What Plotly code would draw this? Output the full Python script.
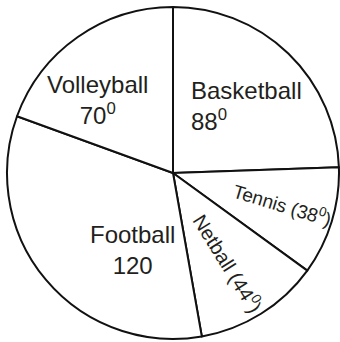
import plotly.graph_objects as go

# Sports and their share of the circle (degrees)
sports = ["Basketball", "Tennis", "Netball", "Football", "Volleyball"]
degrees = [88, 38, 44, 120, 70]

# Label texts drawn on the slices
label_texts = [
    "Basketball<br>88<sup>0</sup>",
    "Tennis (38<sup>0</sup>)",
    "Netball (44<sup>0</sup>)",
    "Football<br>120",
    "Volleyball<br>70<sup>0</sup>",
]

W, H = 340, 342
FONT = "Liberation Sans, Arial, Helvetica, sans-serif"
INK = "#231f20"


def px(x, y):
    """pixel position -> paper coordinates (no margins)"""
    return x / W, 1 - y / H


fig = go.Figure(
    go.Pie(
        labels=sports,
        values=degrees,
        sort=False,
        direction="clockwise",
        rotation=0,
        textinfo="none",
        hoverinfo="skip",
        showlegend=False,
        marker=dict(colors=["white"] * len(sports), line=dict(color="#111111", width=2)),
        domain=dict(x=[6 / W, 1.0], y=[3 / H, 335 / H]),
    )
)

# label placement: (x px, y px, size, angle, anchor, align)
placements = [
    (189, 106, 24, 0, "left", "left"),
    (282, 204, 19, 17, "center", "center"),
    (229, 262, 20, 58, "center", "center"),
    (132, 250, 24, 0, "center", "center"),
    (98, 100, 24, 0, "center", "center"),
]

for text, (x, y, size, ang, anchor, align) in zip(label_texts, placements):
    ax, ay = px(x, y)
    fig.add_annotation(
        x=ax, y=ay, xref="paper", yref="paper",
        text=text, showarrow=False, textangle=ang,
        xanchor=anchor, yanchor="middle", align=align,
        font=dict(family=FONT, size=size, color=INK),
    )

fig.update_layout(
    width=W, height=H,
    margin=dict(l=0, r=0, t=0, b=0),
    paper_bgcolor="white", plot_bgcolor="white",
)

fig.write_html("out.html")
